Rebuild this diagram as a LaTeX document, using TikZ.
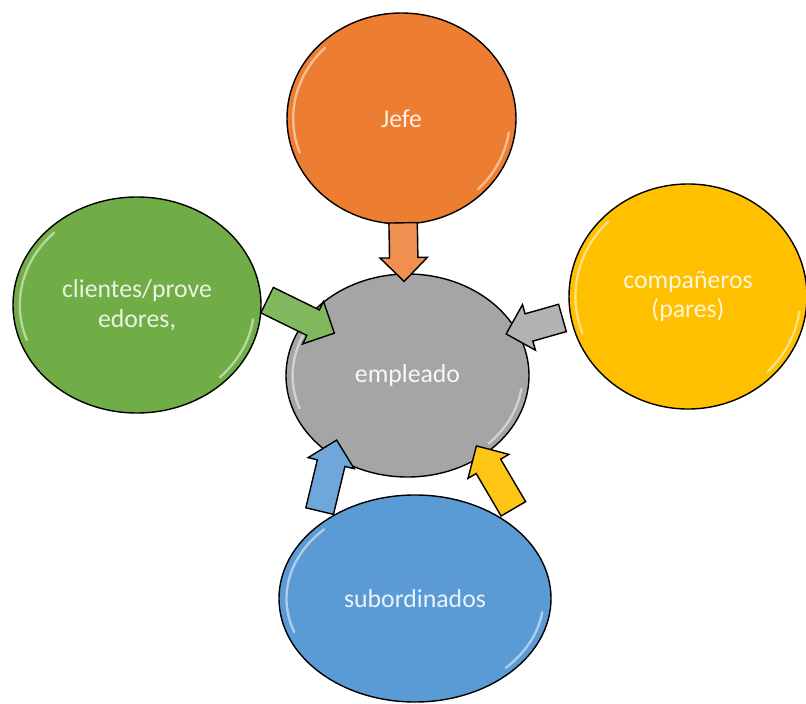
\documentclass[tikz,border=0pt]{standalone}
\usepackage{fontspec}
\setmainfont{Carlito}
\usetikzlibrary{calc,shapes.geometric,shapes.arrows}
\definecolor{jefeC}{RGB}{237,125,49}
\definecolor{cliC}{RGB}{112,173,71}
\definecolor{parC}{RGB}{255,192,0}
\definecolor{subC}{RGB}{91,155,213}
\definecolor{empC}{RGB}{165,165,165}

% block arrow between two points
\newcommand{\blockarr}[3]{%
  \path let \p1=(#1), \p2=(#2), \n1={atan2(\y2-\y1,\x2-\x1)},
    \n2={veclen(\x2-\x1,\y2-\y1)} in
    node[barrow, fill=#3, minimum height=\n2, rotate=\n1] at ($(\p1)!0.5!(\p2)$) {};}
% glossy streaks inside an ellipse
\newcommand{\gloss}[1]{%
  \draw[glint] let \p1=(#1.center), \p2=(#1.east), \p3=(#1.north),
    \n1={0.94*(\x2-\x1)}, \n2={0.94*(\y3-\y1)} in
    (\p1) ++(135:\n1 and \n2) arc[start angle=135, end angle=200, x radius=\n1, y radius=\n2]
    (\p1) ++(-8:\n1 and \n2) arc[start angle=-8, end angle=-45, x radius=\n1, y radius=\n2];}

\begin{document}
\begin{tikzpicture}[x=0.03cm, y=-0.03cm,
    bubble/.style={ellipse, draw=black, line width=1.2pt, inner sep=0pt, align=center,
      font=\fontsize{22}{25.5}\selectfont},
    barrow/.style={single arrow, draw=black, line width=1.2pt, inner xsep=0pt,
      inner ysep=0.405cm, single arrow head extend=0.285cm},
    glint/.style={white, line width=2pt, opacity=.5, line cap=round}]
  \useasboundingbox (0,0) rectangle (806,704);
  % the five bubbles
  \node[bubble, fill=jefeC, text=white!88!jefeC, minimum width=6.87cm, minimum height=6.33cm]
    (jefe) at (401.5,118.5) {Jefe};
  \node[bubble, fill=cliC, text=white!85!cliC, minimum width=7.44cm, minimum height=6.48cm]
    (clientes) at (137,305) {clientes/prove\\edores,};
  \node[bubble, fill=parC, text=white!85!parC, minimum width=7.14cm, minimum height=6.75cm]
    (companeros) at (688,296.5) {compañeros\\(pares)};
  \node[bubble, fill=subC, text=white!88!subC, minimum width=8.16cm, minimum height=6.21cm]
    (subordinados) at (415,598.5) {subordinados};
  \node[bubble, fill=empC, text=white!92!empC, minimum width=7.29cm, minimum height=6.09cm]
    (empleado) at (407.5,375.5) {empleado};
  \gloss{jefe} \gloss{clientes} \gloss{companeros} \gloss{subordinados} \gloss{empleado}
  % arrows into the centre
  \blockarr{$(jefe.south)+(1.5,-9)$}{$(empleado.north)+(-3.5,1)$}{jefeC!85!white}
  \blockarr{$(clientes.east)+(-1,-8)$}{$(empleado.center)+(-79.5,-45.5)$}{cliC!88!white}
  \blockarr{$(companeros.west)+(1,19.5)$}{$(empleado.center)+(105.5,-43.5)$}{empC!85!white}
  \blockarr{$(subordinados.center)+(-97,-80.5)$}{$(empleado.center)+(-72.5,71.5)$}{subC!88!white}
  \blockarr{$(subordinados.center)+(102,-83.5)$}{$(empleado.center)+(72.5,76.5)$}{parC!92!white}
\end{tikzpicture}
\end{document}
